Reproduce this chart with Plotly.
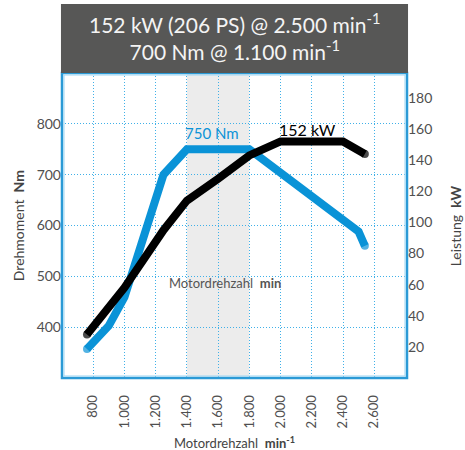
import plotly.graph_objects as go

# Engine speed (rpm) and measured curves
rpm_torque = [760, 900, 1000, 1250, 1400, 1800, 2500, 2540]
torque_nm = [357, 403, 459, 700, 750, 750, 588, 560]

rpm_power = [760, 1000, 1250, 1400, 1600, 1800, 2000, 2400, 2540]
power_kw = [28, 58, 95, 114, 128, 143, 152, 152, 144]

x_ticks = [800, 1000, 1200, 1400, 1600, 1800, 2000, 2200, 2400, 2600]
torque_ticks = [400, 500, 600, 700, 800]
power_ticks = [20, 40, 60, 80, 100, 120, 140, 160, 180]

band_rpm = [1400, 1800]

FONT = "Lato"
GRID = "#3fb0e8"
BLUE = "#0a93d7"
TICK = "#505050"
TITLE = "#444444"
LW = 8


def end_caps(n):
    # round ends for the thick curves: a dot on the first and last point only
    return [LW] + [0] * (n - 2) + [LW]


fig = go.Figure()

fig.add_trace(go.Scatter(
    x=rpm_power, y=power_kw, yaxis="y2", mode="lines+markers",
    line=dict(color="#000000", width=LW),
    marker=dict(color="#000000", size=end_caps(len(rpm_power)), line_width=0),
    hoverinfo="skip", showlegend=False,
))
fig.add_trace(go.Scatter(
    x=rpm_torque, y=torque_nm, mode="lines+markers",
    line=dict(color=BLUE, width=LW),
    marker=dict(color=BLUE, size=end_caps(len(rpm_torque)), line_width=0),
    hoverinfo="skip", showlegend=False,
))

# shaded speed band
fig.add_shape(type="rect", xref="x", yref="paper", x0=band_rpm[0], x1=band_rpm[1],
              y0=0, y1=1, fillcolor="#ececec", line_width=0, layer="below")
# plot frame: dark outer edge with a pale inner line
fig.add_shape(type="rect", xref="paper", yref="paper", x0=0, x1=1, y0=0, y1=1,
              line=dict(color="#2b9ad6", width=2.5), layer="above")
fig.add_shape(type="rect", xref="paper", yref="paper", x0=0.0058, x1=0.9942,
              y0=0.0066, y1=0.9934, line=dict(color="#9ed6f3", width=1), layer="above")
# header box
fig.add_shape(type="rect", xref="paper", yref="paper", x0=-0.003, x1=1.003,
              y0=1.0, y1=1.226, fillcolor="#575756", line_width=0)

fig.add_annotation(xref="paper", yref="paper", x=0.5, y=1.218, yanchor="top",
                   showarrow=False, align="center",
                   text="152 kW (206 PS) @ 2.500 min<sup>-1</sup><br>700 Nm @ 1.100 min<sup>-1</sup>",
                   font=dict(family=FONT, size=21, color="#f4f4f4"))

# curve labels
fig.add_annotation(x=1560, y=781, text="750 Nm", showarrow=False,
                   font=dict(family=FONT, size=15, color=BLUE))
fig.add_annotation(x=2170, y=160, yref="y2", text="152 kW", showarrow=False,
                   font=dict(family=FONT, size=16, color="#000000"))
fig.add_annotation(x=1645, y=487, text="Motordrehzahl  <b>min</b>", showarrow=False,
                   font=dict(family=FONT, size=13, color="#555555"))

# axis titles
fig.add_annotation(xref="paper", yref="paper", x=0.5, y=-0.21, yanchor="middle",
                   showarrow=False, text="Motordrehzahl  <b>min<sup>-1</sup></b>",
                   font=dict(family=FONT, size=13, color=TITLE))
fig.add_annotation(xref="paper", yref="paper", x=-0.156, y=0.5, textangle=-90,
                   showarrow=False, text="Drehmoment  <b>Nm</b>",
                   font=dict(family=FONT, size=14, color=TITLE))
fig.add_annotation(xref="paper", yref="paper", x=1.172, y=0.5, textangle=-90,
                   showarrow=False, text="Leistung  <b>kW</b>",
                   font=dict(family=FONT, size=14, color=TITLE))

fig.update_layout(
    width=465, height=450,
    margin=dict(l=62, r=58, t=73, b=72, autoexpand=False),
    paper_bgcolor="white", plot_bgcolor="white",
    separators=",.",
    font=dict(family=FONT, size=13, color=TICK),
    xaxis=dict(
        range=[600, 2810], tickvals=x_ticks, tickangle=-90, separatethousands=True,
        showgrid=True, gridcolor=GRID, griddash="1px,2px", gridwidth=1,
        zeroline=False, showline=False, automargin=False,
        ticks="outside", ticklen=11, tickcolor="rgba(0,0,0,0)",
        tickfont=dict(family=FONT, size=13, color=TICK),
    ),
    yaxis=dict(
        range=[300, 900], tickvals=torque_ticks, automargin=False,
        showgrid=True, gridcolor=GRID, griddash="1px,2px", gridwidth=1,
        zeroline=False, showline=False, ticks="",
        tickfont=dict(family=FONT, size=14, color=TICK),
    ),
    yaxis2=dict(
        range=[0, 196], tickvals=power_ticks, overlaying="y", side="right",
        showgrid=False, zeroline=False, showline=False, ticks="", automargin=False,
        tickfont=dict(family=FONT, size=14, color=TICK),
    ),
)

fig.write_html("out.html")
